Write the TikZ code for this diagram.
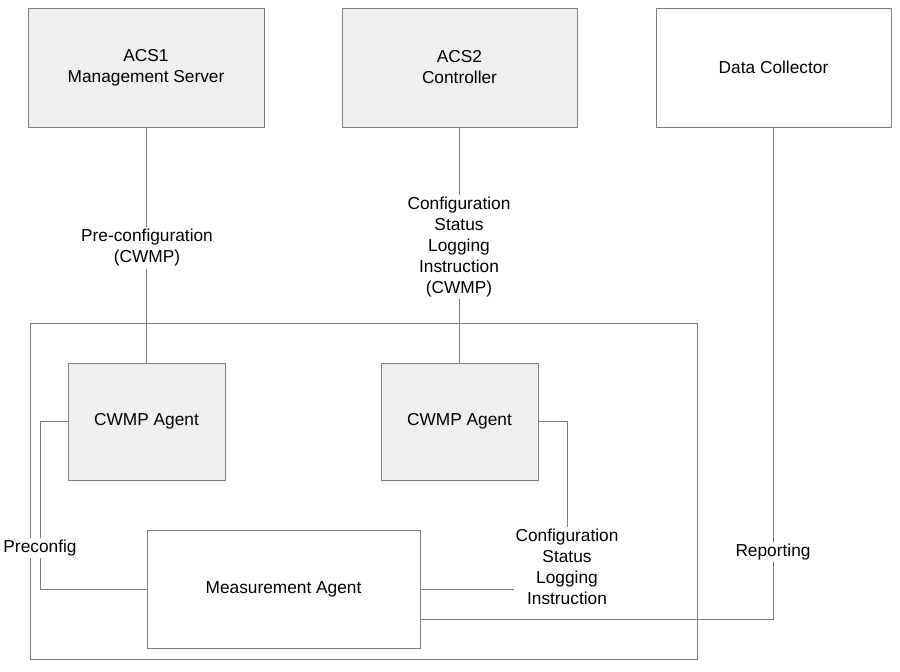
\documentclass[tikz,border=0pt]{standalone}
\usepackage{fontspec}
\setmainfont{Liberation Sans}
\definecolor{linec}{RGB}{125,125,125}
\definecolor{boxfill}{RGB}{239,239,239}
\begin{document}
\begin{tikzpicture}[x=1pt,y=-1pt,
  every node/.style={font=\fontsize{17.3}{21}\selectfont, align=center},
  box/.style={draw=linec, line width=0.85pt, inner sep=0pt, outer sep=0pt},
  gbox/.style={box, fill=boxfill},
  conn/.style={draw=linec, line width=0.85pt},
  lbl/.style={fill=white, inner sep=2pt}]
\useasboundingbox (0,0) rectangle (900,672);
\fill[white] (0,0) rectangle (900,672);
% top boxes
\node[gbox, minimum width=236pt, minimum height=119pt] (acs1) at (146,67.5) {ACS1\\Management Server};
\node[gbox, minimum width=235pt, minimum height=119pt] (acs2) at (459.5,67.5) {ACS2\\Controller};
\node[box, fill=white, minimum width=235pt, minimum height=119pt] (dc) at (773.5,67.5) {Data Collector};
% container
\node[box, minimum width=667pt, minimum height=336pt] (dev) at (363.5,491) {};
% inner boxes
\node[gbox, minimum width=157pt, minimum height=117pt] (cw1) at (146.5,421.5) {CWMP Agent};
\node[gbox, minimum width=157pt, minimum height=117pt] (cw2) at (459.5,421.5) {CWMP Agent};
\node[box, fill=white, minimum width=273pt, minimum height=118pt] (ma) at (283.5,589) {Measurement Agent};
% connectors
\draw[conn] (acs1.south) -- (acs1.south |- cw1.north);
\draw[conn] (acs2.south) -- (acs2.south |- cw2.north);
\draw[conn] (dc.south) |- ([yshift=-30pt]ma.east);
\draw[conn] (cw1.west) -- ++(-28,0) |- (ma.west);
\draw[conn] (cw2.east) -- ++(29,0) |- (ma.east);
% labels
\node[lbl] (l1) at (147,248) {Pre-configuration\\(CWMP)};
\node[lbl] (l2) at (459,247) {Configuration\\Status\\Logging\\Instruction\\(CWMP)};
\node[lbl] (l3) at (773,552) {Reporting};
\node[lbl] (l4) at (40,548) {Preconfig};
\node[lbl] (l5) at (567,567) {Configuration\\Status\\Logging\\Instruction};
\end{tikzpicture}
\end{document}
